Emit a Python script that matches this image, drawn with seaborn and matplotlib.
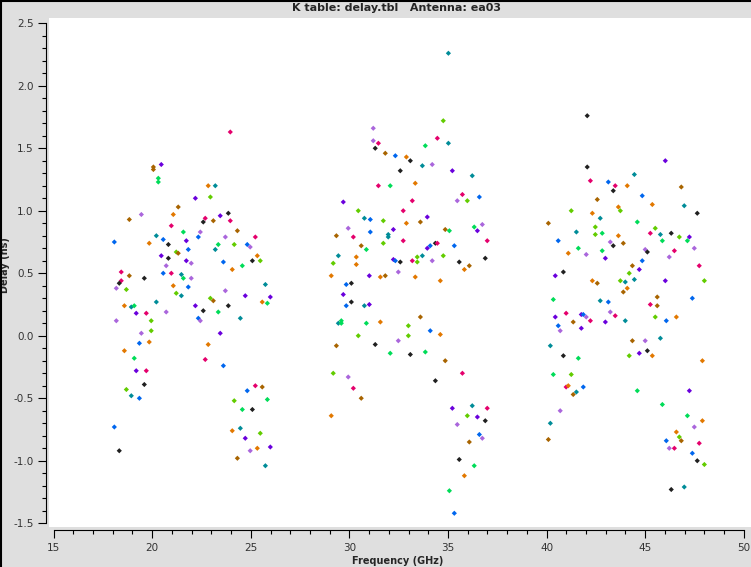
"""K table delay per antenna, plotms-style scatter."""

import matplotlib

matplotlib.use("Agg")
import matplotlib.pyplot as plt
import pandas as pd
import seaborn as sns
from matplotlib.lines import Line2D
from matplotlib.ticker import FormatStrFormatter, MultipleLocator

TITLE = "K table: delay.tbl   Antenna: ea03"

# colour codes: k black, m magenta, p purple, b blue, t teal,
# g green, l lime, o orange, r brown, v lavender
PALETTE = {
    "k": "#202020", "m": "#e4006c", "p": "#6a00dc", "b": "#0066ee",
    "t": "#008c98", "g": "#00dc58", "l": "#62cc00", "o": "#e27800",
    "r": "#a86400", "v": "#aa66dc",
}

# K band (18-26 GHz)
kband_freq = [
    23.96, 20.46, 20.06, 20.06, 20.31, 20.31, 22.84, 23.20, 22.19, 22.95,
    21.32, 19.45, 21.07, 18.84, 23.86, 23.45, 22.69, 22.59, 23.10, 23.96,
    20.97, 21.58, 24.32, 22.44, 20.21, 20.56, 22.34, 23.71, 25.23, 18.08,
    19.85, 21.73, 20.82, 23.35, 24.16, 24.82, 24.97, 21.83, 23.20, 21.22,
    21.32, 20.46, 20.82, 25.33, 21.73, 21.98, 25.08, 25.48, 23.61, 24.57,
    20.71, 24.06, 18.43, 18.84, 20.56, 20.97, 21.48, 19.60, 21.98, 21.58,
    18.43, 18.33, 25.74, 21.07, 18.18, 21.83, 18.69, 23.71, 21.22, 21.48,
    24.72, 25.99, 22.95, 23.10, 25.58, 25.84, 20.21, 22.19, 23.86, 18.59,
    18.94, 19.09, 22.59, 23.35, 19.19, 19.70, 20.71, 24.47, 18.18, 22.34,
    22.44, 19.95, 23.45, 19.45, 19.95, 19.35, 19.85, 22.84, 18.59, 19.09,
    22.69, 23.61, 19.19, 19.70, 19.60, 25.23, 25.58, 24.82, 18.69, 18.94,
    19.35, 24.16, 25.84, 24.57, 25.08, 18.08, 24.06, 24.47, 24.72, 25.48,
    25.99, 25.33, 24.97, 18.33, 24.32, 25.74,
]
kband_delay = [
    1.63, 1.37, 1.35, 1.33, 1.26, 1.23, 1.20, 1.20, 1.10, 1.11,
    1.03, 0.97, 0.97, 0.93, 0.98, 0.96, 0.94, 0.91, 0.92, 0.92,
    0.88, 0.83, 0.84, 0.83, 0.80, 0.77, 0.79, 0.79, 0.79, 0.75,
    0.74, 0.76, 0.73, 0.73, 0.73, 0.73, 0.71, 0.69, 0.69, 0.67,
    0.66, 0.64, 0.62, 0.64, 0.60, 0.58, 0.60, 0.60, 0.59, 0.56,
    0.56, 0.53, 0.51, 0.48, 0.50, 0.50, 0.49, 0.46, 0.46, 0.46,
    0.44, 0.42, 0.41, 0.40, 0.38, 0.39, 0.37, 0.36, 0.34, 0.32,
    0.32, 0.31, 0.30, 0.28, 0.27, 0.26, 0.27, 0.24, 0.24, 0.24,
    0.23, 0.24, 0.20, 0.19, 0.18, 0.18, 0.19, 0.14, 0.12, 0.14,
    0.12, 0.12, 0.02, 0.02, 0.04, -0.06, -0.05, -0.07, -0.12, -0.18,
    -0.19, -0.24, -0.28, -0.28, -0.39, -0.40, -0.41, -0.44, -0.43, -0.48,
    -0.50, -0.52, -0.51, -0.59, -0.59, -0.73, -0.76, -0.74, -0.82, -0.78,
    -0.89, -0.90, -0.92, -0.92, -0.98, -1.04,
]
kband_color = list(
    "mprrggotpl"
    "rvorkpmkrm"
    "mgrvtbbvmb"
    "opkglbvbtl"
    "rpkopvklbg"
    "vomrbmtkvg"
    "mktovblvlt"
    "pplrogtpko"
    "tgkgpmvtvb"
    "vlpvlbooog"
    "mbpmkmrblt"
    "blggkbotpl"
    "povkrt"
)

# Ka band (29-37 GHz)
kaband_freq = [
    35.02, 34.76, 31.21, 31.21, 31.47, 34.46, 31.31, 33.85, 35.02, 31.82,
    32.33, 32.89, 33.09, 34.20, 33.70, 32.58, 35.22, 36.23, 31.47, 32.07,
    33.34, 35.73, 36.59, 35.47, 35.98, 29.69, 33.19, 30.45, 32.73, 33.95,
    30.76, 31.06, 31.72, 32.89, 33.60, 36.74, 29.94, 32.23, 34.86, 35.07,
    36.33, 36.49, 29.34, 30.20, 31.06, 31.97, 31.97, 32.73, 31.72, 30.60,
    30.86, 33.95, 34.10, 34.36, 34.46, 35.32, 36.99, 29.44, 30.35, 32.23,
    32.33, 33.70, 33.44, 34.76, 36.89, 34.20, 29.18, 30.35, 32.58, 33.19,
    33.44, 35.57, 36.08, 35.83, 29.08, 31.01, 31.57, 31.82, 32.48, 33.34,
    34.61, 29.84, 30.10, 29.69, 29.84, 30.10, 30.76, 31.01, 33.60, 29.44,
    29.59, 29.59, 30.86, 31.57, 32.99, 34.10, 34.61, 30.45, 32.99, 32.48,
    29.34, 31.31, 32.07, 33.09, 33.85, 34.86, 29.18, 29.94, 35.73, 34.36,
    30.20, 30.60, 29.08, 35.22, 36.23, 36.99, 35.98, 36.49, 36.89, 35.47,
    36.59, 36.74, 36.08, 35.57, 36.33, 35.83, 35.07, 35.32,
]
kaband_delay = [
    2.26, 1.72, 1.66, 1.56, 1.54, 1.58, 1.50, 1.52, 1.54, 1.46,
    1.44, 1.43, 1.40, 1.37, 1.36, 1.32, 1.32, 1.28, 1.20, 1.20,
    1.22, 1.13, 1.11, 1.08, 1.08, 1.07, 1.08, 1.00, 1.00, 0.95,
    0.94, 0.93, 0.92, 0.90, 0.91, 0.89, 0.86, 0.85, 0.85, 0.84,
    0.87, 0.84, 0.80, 0.79, 0.83, 0.81, 0.79, 0.76, 0.74, 0.72,
    0.69, 0.70, 0.72, 0.74, 0.74, 0.72, 0.76, 0.64, 0.63, 0.61,
    0.60, 0.64, 0.63, 0.64, 0.62, 0.60, 0.58, 0.57, 0.59, 0.60,
    0.59, 0.59, 0.56, 0.53, 0.48, 0.48, 0.47, 0.48, 0.51, 0.47,
    0.44, 0.41, 0.42, 0.33, 0.24, 0.27, 0.24, 0.25, 0.15, 0.10,
    0.12, 0.10, 0.10, 0.11, 0.08, 0.04, 0.01, 0.00, 0.00, -0.04,
    -0.08, -0.07, -0.14, -0.15, -0.13, -0.20, -0.30, -0.33, -0.30, -0.36,
    -0.42, -0.50, -0.64, -0.58, -0.56, -0.58, -0.64, -0.65, -0.68, -0.71,
    -0.79, -0.82, -0.85, -0.99, -1.04, -1.12, -1.24, -1.42,
]
kaband_color = list(
    "tlvvmmkgtr"
    "bokvtkptmg"
    "ombvlpmlmp"
    "tblorvvprg"
    "gprmbttmlr"
    "gpbkmbmtop"
    "btllkvlokm"
    "lkrooporvo"
    "obkpbktprt"
    "gggolbollv"
    "rkgkgrlvmk"
    "mroptmlpkv"
    "bvrkgogb"
)

# Q band (40-48 GHz)
qband_freq = [
    42.06, 46.02, 42.06, 44.45, 42.22, 43.13, 43.48, 44.09, 43.38, 46.83,
    44.85, 42.57, 45.36, 46.98, 43.64, 43.74, 47.64, 41.25, 42.32, 42.72,
    40.09, 44.60, 42.47, 45.51, 41.51, 42.47, 42.82, 45.26, 45.77, 46.32,
    46.73, 47.24, 47.14, 45.87, 40.59, 43.64, 43.23, 43.89, 43.38, 47.49,
    41.61, 45.00, 45.11, 46.48, 41.10, 42.01, 42.82, 46.22, 42.98, 44.85,
    44.35, 47.74, 44.70, 44.19, 40.44, 40.85, 42.32, 42.57, 43.74, 43.99,
    44.45, 46.02, 48.00, 44.09, 43.89, 40.34, 42.72, 43.13, 45.61, 47.39,
    45.26, 45.61, 40.44, 40.99, 41.76, 41.86, 42.01, 41.35, 42.22, 43.23,
    43.48, 42.98, 43.99, 45.51, 46.58, 46.07, 40.59, 41.76, 40.69, 45.77,
    44.35, 45.00, 40.19, 40.85, 41.61, 44.19, 44.70, 45.11, 45.36, 47.90,
    40.34, 41.25, 40.99, 41.10, 41.51, 41.35, 41.86, 44.60, 47.24, 45.87,
    40.69, 47.14, 47.90, 40.19, 47.49, 46.58, 46.73, 46.83, 40.09, 46.07,
    46.22, 46.48, 47.74, 47.39, 47.64, 48.00, 46.32, 46.98,
]
qband_delay = [
    1.76, 1.40, 1.35, 1.29, 1.24, 1.23, 1.20, 1.20, 1.16, 1.19,
    1.12, 1.09, 1.05, 1.04, 1.03, 1.00, 0.98, 1.00, 0.98, 0.94,
    0.90, 0.91, 0.87, 0.86, 0.83, 0.81, 0.82, 0.82, 0.81, 0.82,
    0.79, 0.79, 0.76, 0.76, 0.76, 0.80, 0.75, 0.74, 0.72, 0.70,
    0.70, 0.69, 0.67, 0.68, 0.66, 0.65, 0.68, 0.63, 0.62, 0.60,
    0.56, 0.56, 0.53, 0.50, 0.48, 0.51, 0.44, 0.42, 0.44, 0.43,
    0.45, 0.44, 0.44, 0.38, 0.35, 0.29, 0.28, 0.27, 0.31, 0.30,
    0.25, 0.24, 0.15, 0.18, 0.17, 0.17, 0.15, 0.11, 0.12, 0.19,
    0.16, 0.11, 0.12, 0.15, 0.15, 0.12, 0.08, 0.06, 0.04, -0.02,
    -0.04, -0.04, -0.08, -0.16, -0.18, -0.16, -0.14, -0.12, -0.16, -0.20,
    -0.31, -0.31, -0.41, -0.40, -0.45, -0.47, -0.41, -0.44, -0.44, -0.55,
    -0.60, -0.64, -0.68, -0.70, -0.73, -0.77, -0.81, -0.84, -0.83, -0.84,
    -0.90, -0.90, -0.86, -0.94, -1.00, -1.03, -1.23, -1.21,
]
qband_color = list(
    "kpktmbmokr"
    "brotolklot"
    "rglltlgmtk"
    "lpggbovrkv"
    "gvkmovgvpb"
    "rmplpkorlt"
    "tplorgtbrb"
    "mrpmpbvrmv"
    "mptlobbpvt"
    "rvtkglpkoo"
    "glmotrbgpg"
    "vgotvolrrb"
    "vmmbklkt"
)


def build_frame() -> pd.DataFrame:
    frames = []
    for freq, delay, color in (
        (kband_freq, kband_delay, kband_color),
        (kaband_freq, kaband_delay, kaband_color),
        (qband_freq, qband_delay, qband_color),
    ):
        frames.append(pd.DataFrame({"freq": freq, "delay": delay, "color": color}))
    return pd.concat(frames, ignore_index=True)


def main() -> None:
    data = build_frame()

    sns.set_style("white")
    plt.rcParams["font.family"] = ["DejaVu Sans"]
    plt.rcParams["axes.unicode_minus"] = False

    fig = plt.figure(figsize=(7.51, 5.67), dpi=100, facecolor="#dfdfdf")
    ax = fig.add_axes([49 / 751, 40 / 567, 702 / 751, 509 / 567], facecolor="white")

    sns.scatterplot(
        data=data, x="freq", y="delay", hue="color", palette=PALETTE,
        marker="D", s=7, linewidth=0, legend=False, ax=ax,
    )

    ax.set_xlim(14.767, 50.365)
    ax.set_ylim(-1.530, 2.542)

    for side in ("top", "right"):
        ax.spines[side].set_visible(False)
    ax.spines["left"].set_position(("outward", 2.2))
    ax.spines["left"].set_bounds(-1.5, 2.5)
    ax.spines["bottom"].set_position(("outward", 2.2))
    ax.spines["bottom"].set_bounds(15, 50)
    for side in ("left", "bottom"):
        ax.spines[side].set_color("black")
        ax.spines[side].set_linewidth(0.8)

    ax.xaxis.set_major_locator(MultipleLocator(5))
    ax.xaxis.set_minor_locator(MultipleLocator(1))
    ax.yaxis.set_major_locator(MultipleLocator(0.5))
    ax.yaxis.set_minor_locator(MultipleLocator(0.1))
    ax.yaxis.set_major_formatter(FormatStrFormatter("%.1f"))

    ax.tick_params(which="major", direction="out", length=5.5, width=0.8,
                   color="black", labelsize=7.5, labelcolor="#333333", pad=3.5)
    ax.tick_params(which="minor", direction="out", length=3, width=0.8, color="black")
    ax.tick_params(axis="x", which="both", bottom=True, top=False)
    ax.tick_params(axis="y", which="both", left=True, right=False)

    ax.set_xlabel("Frequency (GHz)", fontsize=7, fontweight="bold")
    ax.set_ylabel("Delay (ns)", fontsize=7, fontweight="bold")
    ax.xaxis.set_label_coords(0.497, -0.0668)
    ax.xaxis.label.set_va("center")
    ax.yaxis.set_label_coords(-0.0627, 0.515)
    ax.yaxis.label.set_va("center")

    fig.text(397 / 751, 1 - 8 / 567, TITLE, ha="center", va="center",
             fontsize=8, fontweight="bold")

    fig.add_artist(Line2D([0.001, 0.001], [0, 1], transform=fig.transFigure,
                          color="black", linewidth=1.5))
    fig.add_artist(Line2D([0, 1], [0.999, 0.999], transform=fig.transFigure,
                          color="black", linewidth=1.5))

    fig.savefig("out.png", dpi=100, facecolor=fig.get_facecolor())
    plt.close(fig)


if __name__ == "__main__":
    main()
